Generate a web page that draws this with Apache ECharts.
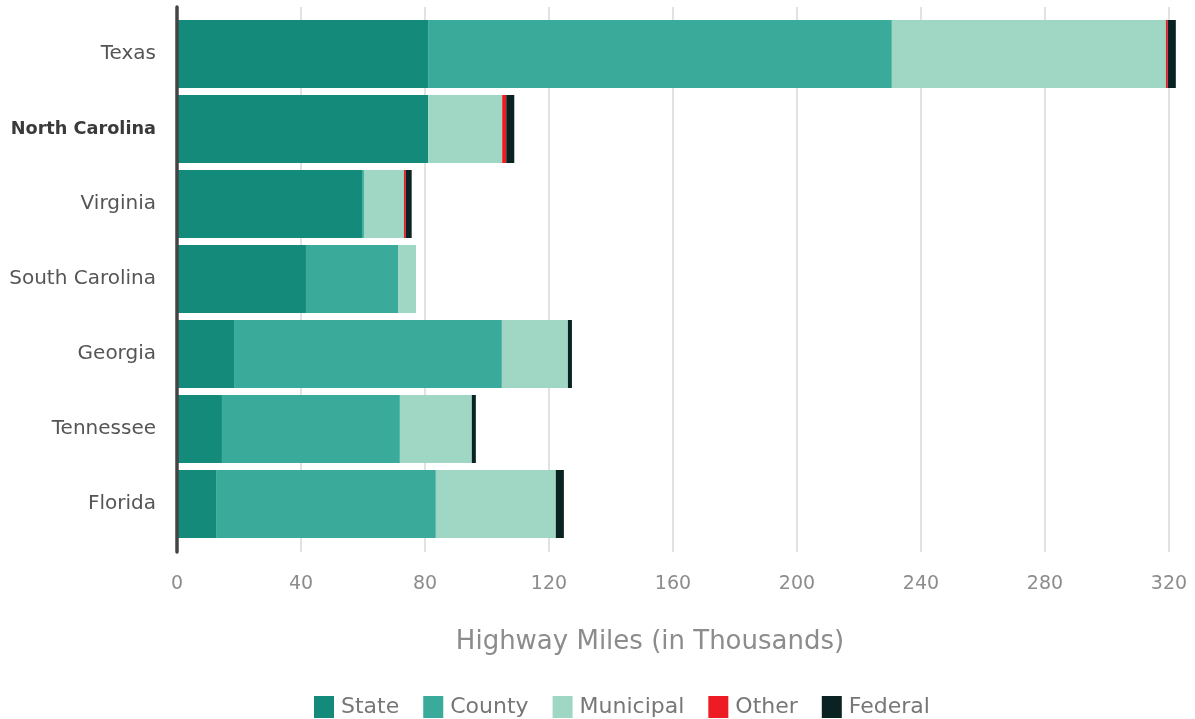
<!DOCTYPE html>
<html>
<head>
<meta charset="utf-8">
<title>Highway Miles by Owner</title>
<script src="https://cdn.jsdelivr.net/npm/echarts@6/dist/echarts.min.js"></script>
<style>
  html, body { margin: 0; padding: 0; background: #ffffff; }
  #chart { width: 1195px; height: 719px; }
</style>
</head>
<body>
<div id="chart"></div>
<script>
// Highway miles (thousands) by owning authority, per state
const states = ['Texas', 'North Carolina', 'Virginia', 'South Carolina', 'Georgia', 'Tennessee', 'Florida'];
const stateMiles     = [81.0, 81.0, 59.7, 41.6, 18.4, 14.5, 12.6];
const countyMiles    = [149.6, 0, 0.6, 29.7, 86.4, 57.4, 70.9];
const municipalMiles = [88.4, 23.9, 12.9, 5.8, 21.3, 23.2, 38.7];
const otherMiles     = [0.6, 1.3, 0.6, 0, 0, 0, 0];
const federalMiles   = [2.6, 2.6, 1.9, 0, 1.3, 1.3, 2.6];

const xTicks = { min: 0, max: 320, interval: 40 };
const highlighted = 'North Carolina';

const FONT = '"DejaVu Sans", "Noto Sans", sans-serif';

const seriesDefs = [
  { name: 'State',     data: stateMiles,     color: '#138a7a' },
  { name: 'County',    data: countyMiles,    color: '#3aab9b' },
  { name: 'Municipal', data: municipalMiles, color: '#9fd7c4' },
  { name: 'Other',     data: otherMiles,     color: '#ed1c24' },
  { name: 'Federal',   data: federalMiles,   color: '#0a2322' }
];

const chart = echarts.init(document.getElementById('chart'), null, { renderer: 'canvas' });

chart.setOption({
  animation: false,
  backgroundColor: '#ffffff',
  textStyle: { fontFamily: FONT },
  grid: [
    // frame grid: gridlines, value labels and the left axis rule
    { left: 177, right: 26, top: 7, height: 545 },
    // bar grid
    { left: 177, right: 26, top: 16.5, height: 525 }
  ],
  xAxis: [
    {
      gridIndex: 0,
      type: 'value',
      min: xTicks.min, max: xTicks.max, interval: xTicks.interval,
      axisLine: { show: false },
      axisTick: { show: false },
      splitLine: { show: true, lineStyle: { color: '#e2e2e2', width: 2 } },
      axisLabel: { color: '#8c8c8c', fontSize: 19, margin: 23, fontFamily: FONT },
      name: 'Highway Miles (in Thousands)',
      nameLocation: 'middle',
      nameGap: 77,
      nameTextStyle: { color: '#8c8c8c', fontSize: 26, fontFamily: FONT, padding: [0, 46, 0, 0] }
    },
    {
      gridIndex: 1,
      type: 'value',
      min: xTicks.min, max: xTicks.max,
      show: false
    }
  ],
  yAxis: [
    {
      gridIndex: 0,
      type: 'value',
      z: 5,
      axisLine: { show: true, lineStyle: { color: '#444444', width: 3.5 } },
      axisTick: { show: false },
      axisLabel: { show: false },
      splitLine: { show: false }
    },
    {
      gridIndex: 1,
      type: 'category',
      data: states,
      inverse: true,
      axisLine: { show: false },
      axisTick: { show: false },
      splitLine: { show: false },
      axisLabel: {
        margin: 21,
        fontSize: 20,
        fontFamily: FONT,
        color: '#555555',
        formatter: function (v) { return v === highlighted ? '{hl|' + v + '}' : v; },
        rich: {
          hl: { fontSize: 17.7, fontWeight: 'bold', color: '#3a3a3a', fontFamily: FONT }
        }
      }
    }
  ],
  legend: {
    left: 314,
    top: 696,
    padding: 0,
    itemWidth: 20,
    itemHeight: 22,
    itemGap: 24,
    icon: 'rect',
    textStyle: { color: '#777777', fontSize: 22, fontFamily: FONT, padding: [0, 0, 0, 2] },
    data: seriesDefs.map(function (s) { return s.name; })
  },
  series: seriesDefs.map(function (s) {
    return {
      name: s.name,
      type: 'bar',
      stack: 'miles',
      xAxisIndex: 1,
      yAxisIndex: 1,
      barWidth: 68,
      clip: false,
      itemStyle: { color: s.color },
      emphasis: { disabled: true },
      data: s.data
    };
  })
});
</script>
</body>
</html>
